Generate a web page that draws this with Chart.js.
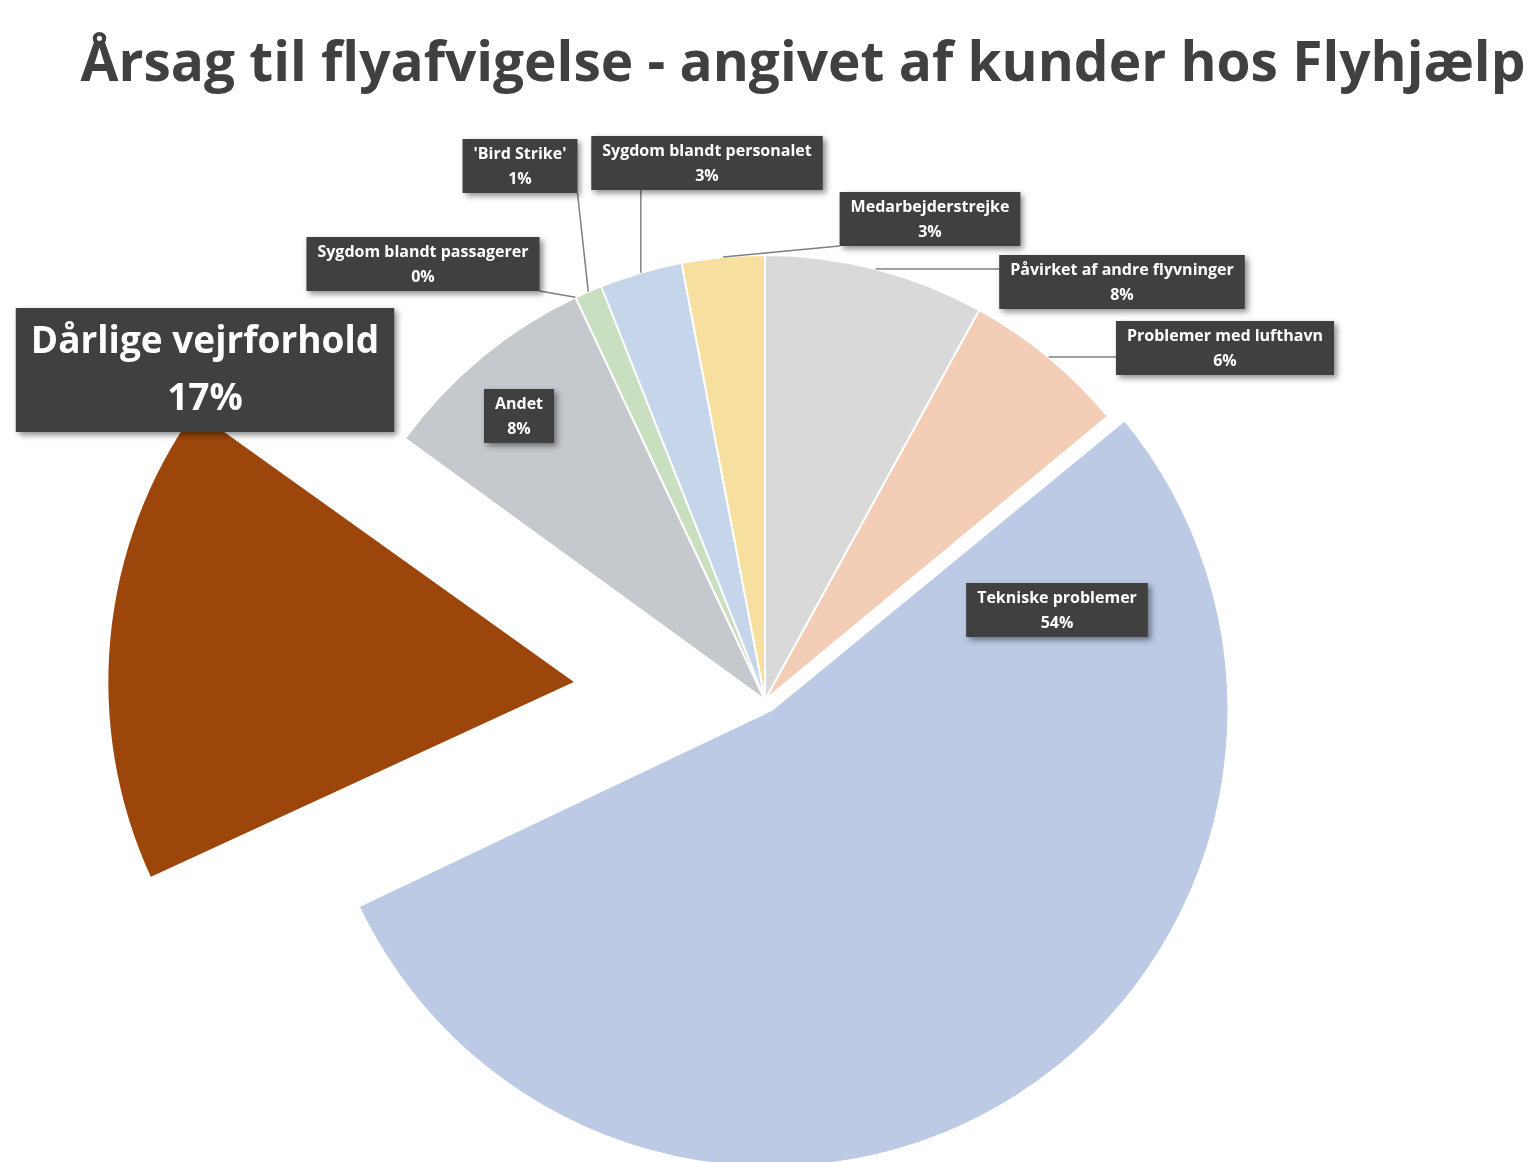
<!DOCTYPE html>
<html>
<head>
<meta charset="utf-8">
<script src="https://cdn.jsdelivr.net/npm/chart.js@4/dist/chart.umd.min.js"></script>
<style>
  html, body { margin: 0; background: #fff; overflow: hidden; width: 1536px; height: 1162px; position: relative; }
  #title { position: absolute; left: 0; top: 22px; width: 1606px; text-align: center;
    font: bold 55px 'Open Sans', sans-serif; color: #404040; margin: 0; white-space: nowrap; }
  #wrap { position: absolute; left: -400px; top: -400px; width: 2400px; height: 2400px; }
</style>
</head>
<body>
<div id="wrap"><canvas id="pie"></canvas></div>
<h1 id="title">Årsag til flyafvigelse - angivet af kunder hos Flyhjælp</h1>
<script>
// data
const causes = ['Påvirket af andre flyvninger', 'Problemer med lufthavn', 'Tekniske problemer',
  'Dårlige vejrforhold', 'Andet', 'Sygdom blandt passagerer', "'Bird Strike'",
  'Sygdom blandt personalet', 'Medarbejderstrejke'];
const shares = [8, 6, 54, 17, 8, 0, 1, 3, 3];
const sliceColors = ['#d9d9d9', '#f4cdb6', '#bccae6', '#9c460b', '#c5c8cd', '#e0e0e0', '#c8dfc0', '#c6d6ea', '#f7e09f'];
// Chart.js moves an arc by offset/4
const explode = [0, 0, 48, 760, 0, 0, 0, 0, 0];

// label box centres (page px) and whether a leader line is drawn
const shift = 400;
const labelPos = [[1122, 282], [1225, 348], [1057, 610], [205, 370], [519, 416],
  [423, 264], [520, 166], [707, 163], [930, 219]];
const leader = [true, true, false, false, false, true, true, true, true];

const labelPlugin = {
  id: 'boxLabels',
  afterDatasetsDraw(chart) {
    const ctx = chart.ctx;
    const arcs = chart.getDatasetMeta(0).data;
    arcs.forEach((arc, i) => {
      const cx = labelPos[i][0] + shift, cy = labelPos[i][1] + shift;
      const big = i === 3;
      const fs = big ? 37 : 16;
      ctx.font = `bold ${fs}px 'Open Sans', sans-serif`;
      const l1 = causes[i], l2 = shares[i] + '%';
      const w = Math.max(ctx.measureText(l1).width, ctx.measureText(l2).width) + (big ? 30 : 22);
      const h = big ? 124 : 54;
      const x0 = cx - w / 2, y0 = cy - h / 2;
      if (leader[i]) {
        const p = arc.getProps(['x', 'y', 'startAngle', 'endAngle', 'outerRadius']);
        const a = (p.startAngle + p.endAngle) / 2;
        const tx = p.x + Math.cos(a) * p.outerRadius;
        const ty = p.y + Math.sin(a) * p.outerRadius;
        const sx = Math.min(Math.max(tx, x0), x0 + w);
        const sy = Math.min(Math.max(ty, y0), y0 + h);
        ctx.strokeStyle = '#7f7f7f';
        ctx.lineWidth = 1.5;
        ctx.beginPath(); ctx.moveTo(sx, sy); ctx.lineTo(tx, ty); ctx.stroke();
      }
      ctx.save();
      ctx.shadowColor = 'rgba(0,0,0,0.45)';
      ctx.shadowBlur = 6; ctx.shadowOffsetX = 3; ctx.shadowOffsetY = 3;
      ctx.fillStyle = '#404040';
      ctx.fillRect(x0, y0, w, h);
      ctx.restore();
      ctx.fillStyle = '#fff';
      ctx.textAlign = 'center'; ctx.textBaseline = 'middle';
      ctx.fillText(l1, cx, cy - h * 0.22);
      ctx.fillText(l2, cx, cy + h * 0.24);
    });
  }
};

new Chart(document.getElementById('pie'), {
  type: 'pie',
  data: {
    labels: causes,
    datasets: [{
      data: shares,
      backgroundColor: sliceColors,
      borderColor: '#ffffff',
      borderWidth: 2,
      offset: explode
    }]
  },
  options: {
    responsive: true,
    maintainAspectRatio: false,
    animation: false,
    layout: { padding: { left: 339, right: 409, top: 274, bottom: 474 } },
    plugins: { legend: { display: false }, tooltip: { enabled: false } }
  },
  plugins: [labelPlugin]
});
</script>
</body>
</html>
